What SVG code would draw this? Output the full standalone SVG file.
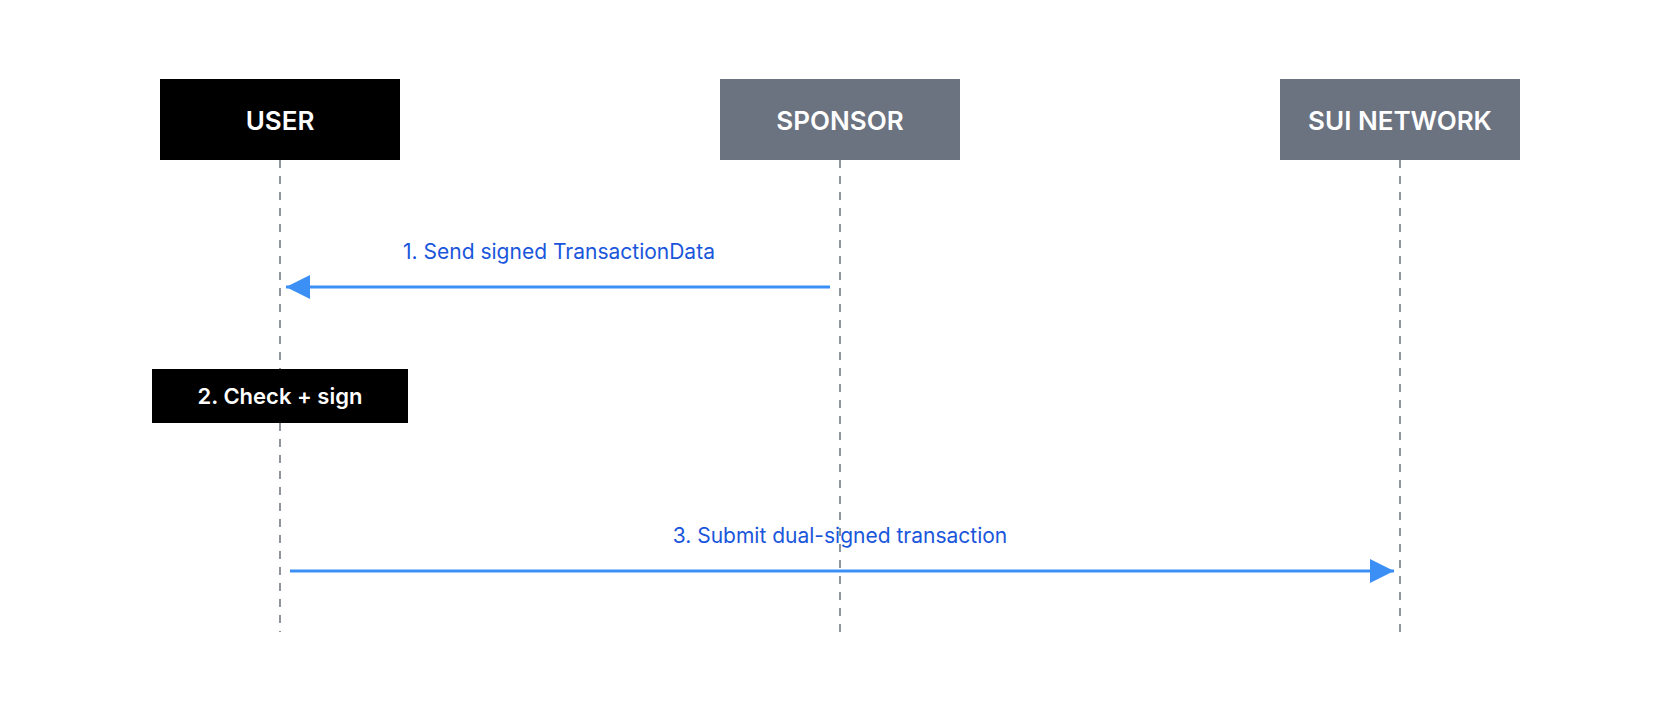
<svg xmlns="http://www.w3.org/2000/svg" width="1680" height="720" viewBox="0 0 1680 720">
<style>
.hd{font-family:Inter,"Noto Sans",sans-serif;font-weight:600;font-size:26px;fill:#fff;text-anchor:middle;dominant-baseline:central}
.lb{font-family:Inter,"Noto Sans",sans-serif;font-size:21px;fill:#1a56db;text-anchor:middle}
.life{stroke:#6b7280;stroke-width:1.5;stroke-dasharray:8,8}
.msg{stroke:#3b8ff5;stroke-width:3;fill:none}
</style>
<defs><marker id="ah" viewBox="0 0 10 10" refX="10" refY="5" markerWidth="8" markerHeight="8" markerUnits="userSpaceOnUse" orient="auto"><path d="M0,0L10,5L0,10z" fill="#3b8ff5"/></marker>
<marker id="a" viewBox="0 0 24 24" refX="24" refY="12" markerWidth="24" markerHeight="24" markerUnits="userSpaceOnUse" orient="auto"><path d="M0,0L24,12L0,24z" fill="#3b8ff5"/></marker></defs>
<g id="lifelines">
<line class="life" x1="280" y1="160" x2="280" y2="369"/>
<line class="life" x1="280" y1="423" x2="280" y2="632"/>
<line class="life" x1="840" y1="160" x2="840" y2="632"/>
<line class="life" x1="1400" y1="160" x2="1400" y2="632"/>
</g>
<g id="user"><rect x="160" y="79" width="240" height="81" fill="#000"/><text class="hd" x="280" y="120">USER</text></g>
<g id="sponsor"><rect x="720" y="79" width="240" height="81" fill="#6b7280"/><text class="hd" x="840" y="120">SPONSOR</text></g>
<g id="sui"><rect x="1280" y="79" width="240" height="81" fill="#6b7280"/><text class="hd" x="1400" y="120">SUI NETWORK</text></g>
<g id="check"><rect x="152" y="369" width="256" height="54" fill="#000"/><text class="hd" style="font-size:22px" x="280" y="396">2. Check + sign</text></g>
<g id="connectors">
<line class="msg" x1="830" y1="287" x2="286" y2="287" marker-end="url(#a)"/>
<text class="lb" x="559" y="259">1. Send signed TransactionData</text>
<line class="msg" x1="290" y1="571" x2="1394" y2="571" marker-end="url(#a)"/>
<text class="lb" x="840" y="543">3. Submit dual-signed transaction</text>
</g>
</svg>
